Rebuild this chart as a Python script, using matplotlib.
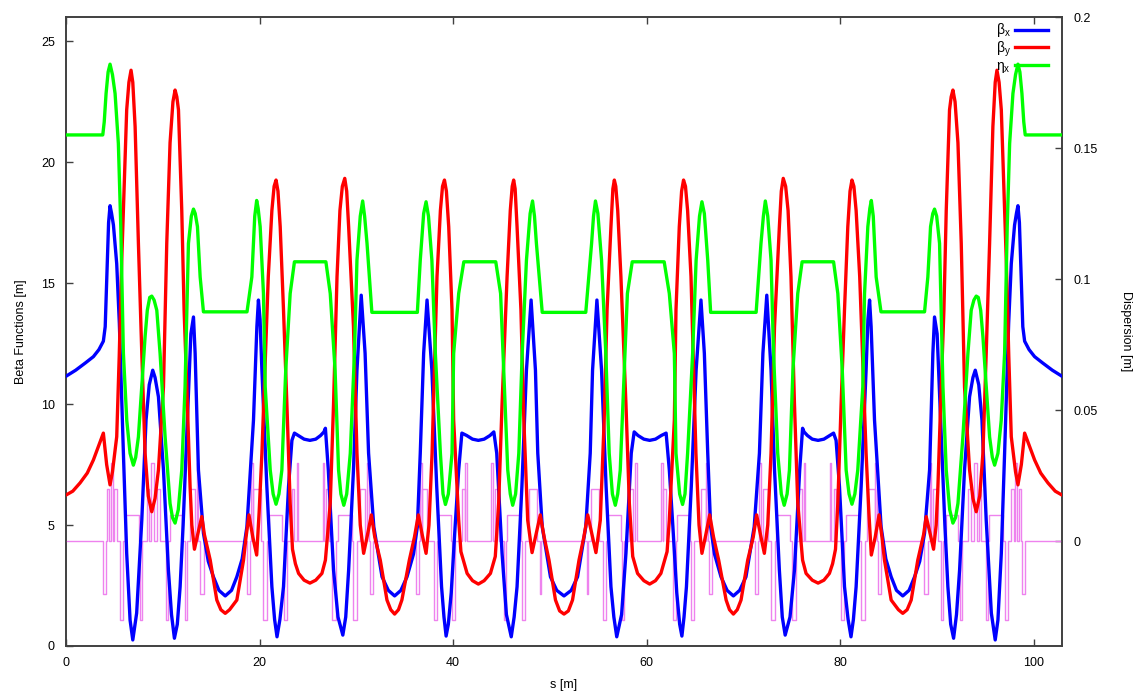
import numpy as np
import matplotlib
matplotlib.use("Agg")
import matplotlib.pyplot as plt

plt.rcParams['font.family'] = ['Liberation Sans', 'DejaVu Sans']

# ring length; the lattice is mirror symmetric about its centre,
# so only the first half is read off the picture
ring_length = 102.9

s_bx = [0.0, 1.0, 2.0, 2.83, 3.4, 3.86, 4.05, 4.2, 4.4, 4.55, 4.7, 4.9, 5.24, 5.51,
        5.93, 6.27, 6.62, 6.9, 7.3, 7.83, 8.27, 8.6, 8.96, 9.2, 9.55, 10.07, 10.58,
        10.9, 11.2, 11.5, 11.79, 12.1, 12.4, 12.9, 13.17, 13.34, 13.68, 14.2, 14.7,
        15.23, 15.8, 16.45, 17.1, 17.65, 18.2, 18.69, 19.37, 19.72, 19.88, 20.05,
        20.24, 20.75, 21.27, 21.55, 21.8, 22.1, 22.47, 22.99, 23.34, 23.6, 24.0,
        24.6, 25.2, 25.8, 26.3, 26.65, 26.8, 27.1, 27.64, 28.1, 28.6, 28.9, 29.2,
        29.7, 30.06, 30.5, 30.9, 31.26, 31.8, 32.65, 33.3, 33.95, 34.6, 35.23, 35.9,
        36.3, 36.6, 36.95, 37.3, 37.8, 38.3, 38.8, 39.05, 39.27, 39.5, 39.8, 40.2,
        40.57, 40.9, 41.4, 42.0, 42.6, 43.2, 43.8, 44.2, 44.5, 45.05, 45.5, 46.0,
        46.3, 46.6, 47.1, 47.57, 48.05, 48.5, 48.74, 49.2, 50.05, 50.7, 51.45]
beta_x = [11.15, 11.4, 11.7, 11.96, 12.25, 12.6, 13.2, 15.0, 17.5, 18.2, 17.9, 17.4,
          15.8, 13.35, 7.97, 3.83, 1.07, 0.25, 1.36, 5.2, 9.34, 10.8, 11.4, 11.1,
          10.3, 7.28, 3.14, 1.3, 0.32, 0.9, 2.45, 5.0, 7.97, 12.9, 13.6, 12.1, 7.28,
          4.66, 3.5, 2.86, 2.3, 2.07, 2.3, 2.86, 3.6, 4.93, 9.34, 13.2, 14.3, 13.5,
          11.4, 6.59, 2.45, 1.1, 0.38, 1.1, 2.45, 6.59, 8.5, 8.8, 8.7, 8.55, 8.5,
          8.55, 8.7, 8.85, 9.0, 7.28, 3.14, 1.2, 0.45, 1.2, 3.14, 7.28, 11.4, 14.5,
          12.1, 7.97, 4.93, 2.86, 2.3, 2.07, 2.3, 2.86, 3.8, 4.93, 7.97, 12.1, 14.3,
          11.4, 6.59, 2.45, 1.2, 0.41, 0.9, 2.2, 4.93, 7.28, 8.8, 8.7, 8.55, 8.5,
          8.55, 8.7, 8.85, 7.97, 3.83, 1.3, 0.38, 1.2, 2.45, 6.59, 11.4, 14.3, 11.4,
          7.97, 4.93, 2.86, 2.3, 2.07]

s_by = [0.0, 0.7, 1.45, 2.2, 2.83, 3.4, 3.86, 4.2, 4.55, 4.8, 5.24, 5.5, 5.76, 6.27,
        6.5, 6.72, 6.9, 7.14, 7.48, 7.83, 8.17, 8.5, 8.86, 9.2, 9.55, 10.07, 10.41,
        10.75, 11.05, 11.27, 11.45, 11.62, 11.96, 12.2, 12.48, 12.82, 13.0, 13.27,
        13.6, 14.03, 14.3, 14.9, 15.58, 16.0, 16.45, 16.9, 17.65, 18.34, 18.6, 18.9,
        19.3, 19.7, 19.95, 20.24, 20.9, 21.27, 21.5, 21.7, 21.9, 22.13, 22.47, 22.82,
        23.16, 23.4, 23.7, 24.03, 24.6, 25.2, 25.8, 26.44, 26.8, 27.0, 27.3, 27.64,
        28.0, 28.3, 28.55, 28.8, 29.0, 29.2, 29.7, 30.06, 30.4, 30.75, 31.15, 31.55,
        31.9, 32.47, 33.16, 33.55, 33.95, 34.35, 34.7, 35.47, 36.0, 36.4, 36.8, 37.2,
        37.5, 37.82, 38.33, 38.68, 38.9, 39.1, 39.3, 39.54, 39.88, 40.05, 40.57,
        40.8, 41.44, 42.0, 42.6, 43.2, 43.85, 44.35, 44.7, 45.05, 45.57, 45.9, 46.1,
        46.25, 46.4, 46.6, 47.0, 47.3, 47.7, 48.15, 48.55, 49.0, 49.4, 49.9, 50.57,
        51.0, 51.45]
beta_y = [6.24, 6.4, 6.74, 7.15, 7.69, 8.3, 8.8, 7.5, 6.66, 7.2, 8.65, 12.0, 15.96,
          22.16, 23.3, 23.8, 23.3, 21.47, 16.65, 12.1, 7.97, 6.2, 5.55, 6.1, 7.28,
          10.7, 16.65, 20.8, 22.5, 22.98, 22.7, 22.16, 18.0, 13.9, 10.7, 6.59, 5.0,
          4.0, 4.6, 5.35, 4.6, 3.55, 1.9, 1.5, 1.35, 1.5, 1.9, 3.55, 4.5, 5.42, 4.5,
          3.76, 5.5, 7.97, 15.27, 18.0, 19.0, 19.26, 18.8, 17.33, 13.9, 10.0, 5.9,
          4.0, 3.4, 3.0, 2.72, 2.6, 2.72, 3.0, 3.55, 4.5, 5.9, 10.0, 15.27, 18.0,
          19.0, 19.33, 18.8, 17.33, 13.2, 7.97, 5.0, 3.83, 4.6, 5.42, 4.5, 3.55, 1.9,
          1.5, 1.32, 1.5, 1.9, 3.55, 4.5, 5.42, 4.6, 3.83, 5.0, 7.97, 15.27, 18.0,
          19.0, 19.26, 18.8, 17.33, 13.9, 9.34, 5.2, 3.9, 3.0, 2.7, 2.56, 2.7, 3.0,
          3.7, 5.9, 10.0, 15.27, 18.0, 19.0, 19.26, 18.9, 17.33, 13.9, 9.34, 5.2,
          3.86, 4.6, 5.42, 4.5, 3.55, 1.9, 1.45, 1.32]

s_eta = [0.0, 3.8, 3.95, 4.14, 4.35, 4.55, 4.8, 5.07, 5.41, 5.66, 5.93, 6.28, 6.62,
         6.96, 7.2, 7.48, 7.83, 8.17, 8.4, 8.65, 8.86, 9.1, 9.38, 9.72, 10.24, 10.75,
         11.0, 11.27, 11.6, 11.96, 12.3, 12.65, 12.95, 13.17, 13.35, 13.58, 13.86,
         14.2, 18.7, 19.2, 19.5, 19.7, 19.85, 20.06, 20.4, 20.58, 21.1, 21.4, 21.7,
         22.0, 22.3, 22.7, 23.16, 23.6, 26.85, 27.3, 27.8, 28.16, 28.4, 28.7, 29.0,
         29.37, 29.8, 30.06, 30.4, 30.65, 30.85, 31.1, 31.6, 36.3, 36.6, 36.95, 37.2,
         37.45, 37.8, 38.16, 38.68, 38.95, 39.2, 39.5, 39.88, 40.05, 40.57, 41.1,
         44.4, 44.9, 45.22, 45.64, 45.9, 46.15, 46.45, 46.78, 47.13, 47.57, 47.95,
         48.2, 48.4, 48.6, 49.2, 51.45]
eta_x = [0.155, 0.155, 0.16, 0.1708, 0.179, 0.182, 0.178, 0.1708, 0.1517, 0.12,
         0.0716, 0.046, 0.0335, 0.029, 0.032, 0.0398, 0.0589, 0.078, 0.0881, 0.093,
         0.0935, 0.092, 0.0881, 0.0716, 0.0398, 0.0144, 0.009, 0.0069, 0.012, 0.0271,
         0.0589, 0.1136, 0.124, 0.1267, 0.125, 0.12, 0.1008, 0.0875, 0.0875, 0.1008,
         0.124, 0.130, 0.127, 0.12, 0.0945, 0.0589, 0.0271, 0.018, 0.0141, 0.018,
         0.0271, 0.0652, 0.0945, 0.1066, 0.1066, 0.0945, 0.0652, 0.0271, 0.018,
         0.0137, 0.018, 0.0335, 0.0716, 0.1072, 0.124, 0.1298, 0.124, 0.1136, 0.0873,
         0.0873, 0.1072, 0.125, 0.1295, 0.124, 0.1072, 0.0716, 0.0335, 0.018, 0.014,
         0.018, 0.0335, 0.0716, 0.0945, 0.1066, 0.1066, 0.0945, 0.0652, 0.0271,
         0.018, 0.0137, 0.018, 0.0335, 0.0716, 0.1072, 0.125, 0.1298, 0.124, 0.1136,
         0.0873, 0.0873]

# magnet layout of the first half: start, end, box height (dispersion axis)
mag_start = [3.80, 4.20, 4.65, 5.00, 5.58, 6.10, 7.65, 8.34, 8.80, 9.38, 10.34,
             10.75, 12.30, 12.82, 13.50, 13.86, 18.75, 19.10, 19.37, 20.40, 21.00,
             22.50, 23.30, 23.85, 26.55, 26.85, 27.50, 28.10, 29.70, 30.40, 31.10,
             31.45, 36.20, 36.60, 36.80, 38.00, 38.45, 39.90, 40.90, 41.26, 43.90,
             44.30, 45.20, 45.60, 47.10, 47.80, 48.95]
mag_end = [4.10, 4.45, 4.90, 5.30, 5.93, 7.55, 7.90, 8.60, 9.05, 9.72, 10.58, 11.96,
           12.50, 13.34, 13.65, 14.27, 19.03, 19.30, 20.10, 20.75, 22.35, 22.80,
           23.60, 24.00, 26.70, 27.20, 27.90, 29.55, 30.05, 30.90, 31.30, 31.70,
           36.50, 36.75, 37.30, 38.30, 39.75, 40.20, 41.20, 41.40, 44.10, 44.70,
           45.50, 47.00, 47.45, 48.70, 49.10]
mag_height = [-0.02, 0.02, 0.03, 0.02, -0.03, 0.01, -0.03, 0.02, 0.03, 0.02, -0.03,
              0.01, -0.03, 0.02, 0.03, -0.02, -0.02, 0.03, 0.02, -0.03, 0.01, -0.03,
              0.02, 0.03, 0.03, 0.02, -0.03, 0.01, -0.03, 0.02, 0.03, -0.02, -0.02,
              0.03, 0.02, -0.03, 0.01, -0.03, 0.02, 0.03, 0.03, 0.02, -0.03, 0.01,
              -0.03, 0.02, -0.02]


def whole_ring(s, v):
    s = np.asarray(s, dtype=float)
    v = np.asarray(v, dtype=float)
    return (np.concatenate([s, ring_length - s[::-1]]),
            np.concatenate([v, v[::-1]]))


sx, bx = whole_ring(s_bx, beta_x)
sy, by = whole_ring(s_by, beta_y)
se, ex = whole_ring(s_eta, eta_x)

# magnet boxes as one outline along the zero line
starts = list(mag_start) + [ring_length - e for e in mag_end[::-1]]
ends = list(mag_end) + [ring_length - s for s in mag_start[::-1]]
heights = list(mag_height) + list(mag_height[::-1])
lat_s, lat_h = [0.0], [0.0]
for a, b, h in zip(starts, ends, heights):
    lat_s += [a, a, b, b]
    lat_h += [0.0, h, h, 0.0]
lat_s.append(ring_length)
lat_h.append(0.0)

fig = plt.figure(figsize=(11.48, 6.96), dpi=100)
ax = fig.add_axes([66 / 1148, 50 / 696, 996 / 1148, 629 / 696])
ax2 = ax.twinx()
ax.set_zorder(ax2.get_zorder() + 1)
ax.patch.set_visible(False)

ax.set_xlim(0, ring_length)
ax.set_ylim(0, 26)
ax2.set_ylim(-0.04, 0.2)

ax.plot(lat_s, lat_h, color='#ee82ee', lw=1.0, transform=ax2.transData,
        zorder=1)
ax.plot(sx, bx, color='#0000ff', lw=2.4, label=r'$\mathregular{\beta_x}$', zorder=3)
ax.plot(sy, by, color='#ff0000', lw=2.4, label=r'$\mathregular{\beta_y}$', zorder=4)
ax.plot(se, ex, color='#00ff00', lw=2.4, label=r'$\mathregular{\eta_x}$',
        transform=ax2.transData, zorder=5)
ax.set_xlim(0, ring_length)
ax.set_ylim(0, 26)

ax.set_xticks([0, 20, 40, 60, 80, 100])
ax.set_yticks([0, 5, 10, 15, 20, 25])
ax2.set_yticks([0, 0.05, 0.1, 0.15, 0.2])
ax2.set_yticklabels(['0', '0.05', '0.1', '0.15', '0.2'])

ax.tick_params(direction='in', top=True, right=False, length=5, width=1,
               labelsize=9, pad=8, color='#404040')
ax2.tick_params(direction='in', length=5, width=1, labelsize=9, pad=8,
                color='#404040')
for a in (ax, ax2):
    for sp in a.spines.values():
        sp.set_color('#404040')
        sp.set_linewidth(1.2)

ax.set_xlabel('s [m]', fontsize=9, labelpad=7)
ax.set_ylabel('Beta Functions [m]', fontsize=9, labelpad=10)
ax2.set_ylabel('Dispersion [m]', fontsize=9, rotation=270, labelpad=16,
               va='bottom')

ax.legend(loc='upper right', bbox_to_anchor=(0.986, 0.993), markerfirst=False,
          frameon=False, fontsize=10, handlelength=2.4, labelspacing=0.0,
          borderaxespad=0.0, handletextpad=0.3, borderpad=0.0)

fig.savefig('out.png', dpi=100)
